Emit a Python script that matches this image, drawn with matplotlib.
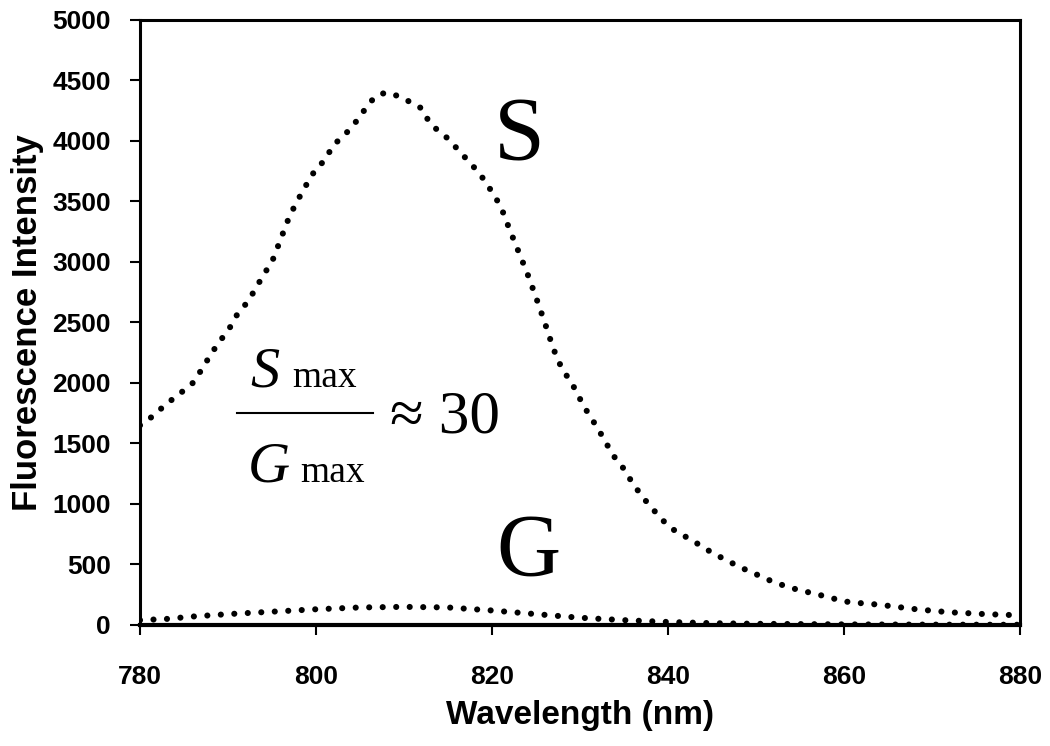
import numpy as np
import matplotlib
matplotlib.use('Agg')
import matplotlib.pyplot as plt

# emission spectra
wl_S = [780, 781, 782, 783, 784, 785, 786, 787, 788, 789, 790, 791, 792, 793, 794,
        795, 796, 797, 798, 799, 800, 801, 802, 803, 804, 805, 806, 807, 808, 809,
        810, 811, 812, 813, 814, 815, 816, 817, 818, 819, 820, 821, 822, 823, 824,
        825, 826, 827, 828, 829, 830, 831, 832, 833, 834, 835, 836, 837, 838, 839,
        840, 841, 842, 843, 844, 845, 846, 847, 848, 849, 850, 852, 854, 856, 858,
        860, 862, 864, 866, 868, 870, 872, 874, 876, 878, 880]
I_S = [1650, 1700, 1760, 1830, 1880, 1940, 2000, 2110, 2230, 2340, 2430, 2560, 2650,
       2760, 2890, 3000, 3190, 3380, 3520, 3650, 3770, 3840, 3970, 4030, 4110, 4200,
       4310, 4380, 4400, 4380, 4350, 4310, 4270, 4140, 4080, 4020, 3940, 3860, 3780,
       3690, 3580, 3460, 3270, 3090, 2910, 2710, 2500, 2280, 2110, 2010, 1870, 1740,
       1630, 1500, 1380, 1290, 1170, 1070, 980, 900, 820, 770, 730, 690, 640, 600,
       560, 520, 490, 450, 420, 355, 306, 270, 235, 195, 180, 168, 150, 132, 118,
       105, 98, 90, 85, 80]

wl_G = [780, 783, 786, 790, 795, 800, 805, 810, 815, 820, 825, 830, 835, 840, 845,
        850, 860, 870, 880]
I_G = [40, 50, 70, 90, 110, 130, 145, 150, 145, 120, 90, 60, 40, 25, 15, 10, 5, 3, 2]

xticks = [780, 800, 820, 840, 860, 880]
yticks = list(range(0, 5001, 500))

sans = ['Liberation Sans', 'DejaVu Sans']
serif = ['Liberation Serif', 'DejaVu Serif']

fig = plt.figure(figsize=(10.5, 7.46), dpi=100)
ax = fig.add_axes([0.1333, 0.1622, 0.838, 0.811])

dots = dict(color='black', lw=4.4, linestyle=(0, (0.01, 2.2)),
            dash_capstyle='round', solid_capstyle='round')
ax.plot(wl_S, I_S, **dots)
ax.plot(wl_G, I_G, **dots)

ax.set_xlim(780, 880)
ax.set_ylim(0, 5000)
ax.set_xticks(xticks)
ax.set_yticks(yticks)
for s in ax.spines.values():
    s.set_linewidth(2.2)
ax.spines['bottom'].set_linewidth(3)
ax.tick_params(direction='out', length=7, width=1.5)
ax.tick_params(axis='x', pad=22)
ax.tick_params(axis='y', pad=14)
for lab in ax.get_xticklabels() + ax.get_yticklabels():
    lab.set_family(sans)
    lab.set_fontweight('bold')
    lab.set_fontsize(19)

ax.set_xlabel('Wavelength (nm)', family=sans, fontweight='bold', fontsize=24, labelpad=8)
ax.set_ylabel('Fluorescence Intensity', family=sans, fontweight='bold', fontsize=25, labelpad=6)

# curve labels
ax.text(823.1, 3843, 'S', family=serif, fontsize=66, ha='center', va='baseline')
ax.text(824.2, 413, 'G', family=serif, fontsize=64, ha='center', va='baseline')

# ratio annotation
ax.text(792.5, 1967, 'S', family=serif, style='italic', fontsize=42, va='baseline')
ax.text(797.3, 1967, 'max', family=serif, fontsize=27, va='baseline')
ax.plot([791.0, 806.5], [1752, 1752], color='black', lw=1.5)
ax.text(792.2, 1182, 'G', family=serif, style='italic', fontsize=42, va='baseline')
ax.text(798.2, 1182, 'max', family=serif, fontsize=27, va='baseline')
ax.text(808.4, 1587, '≈ 30', family=serif, fontsize=44, va='baseline')

fig.savefig('out.png', dpi=100)
